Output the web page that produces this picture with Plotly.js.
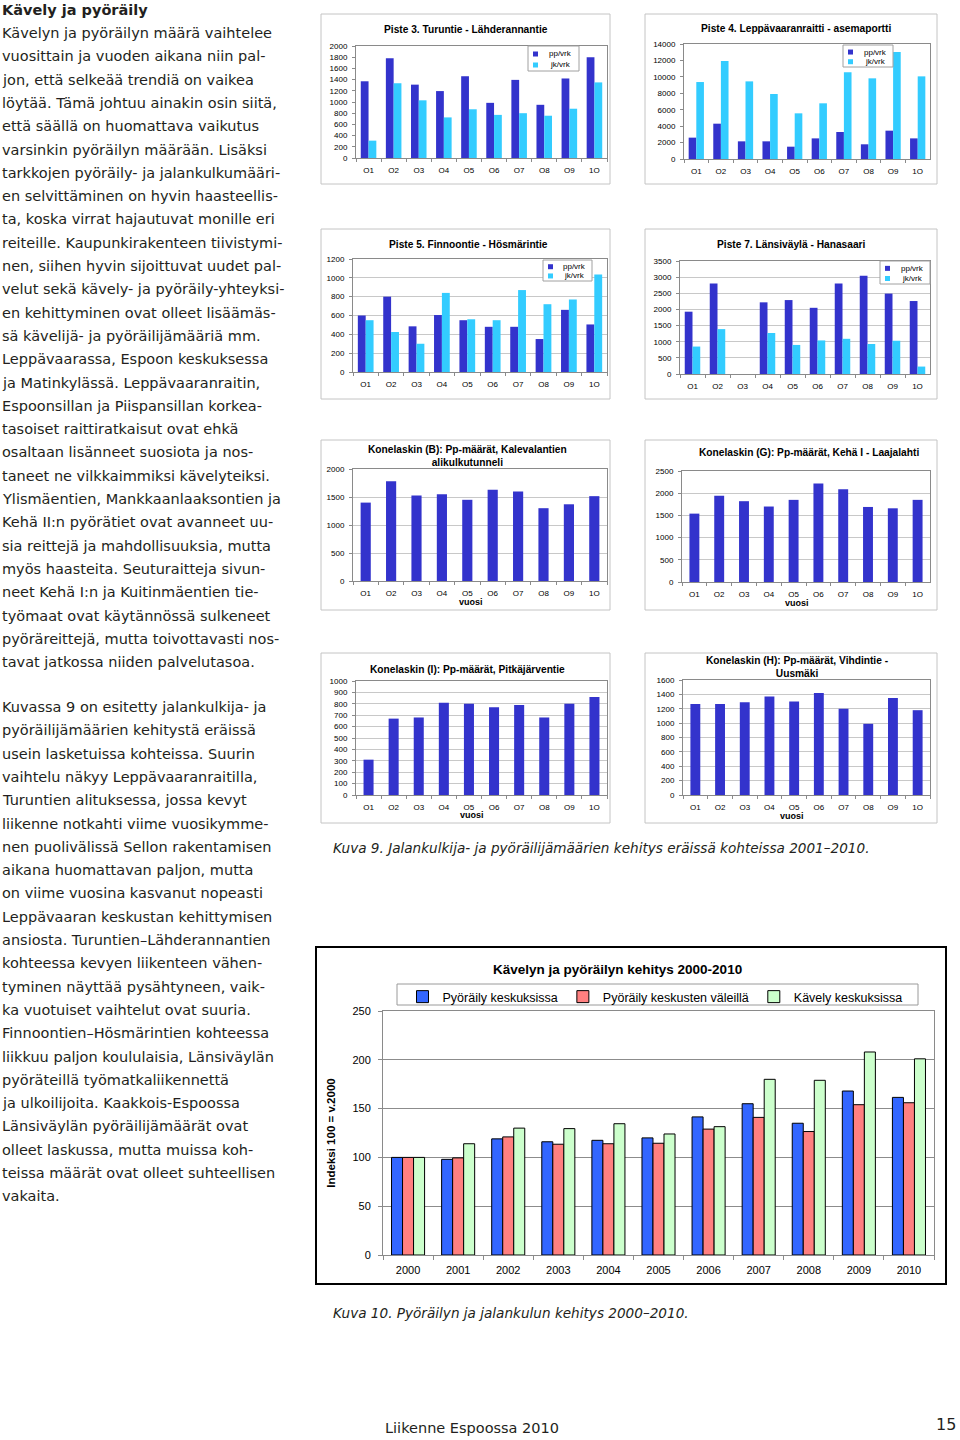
<!DOCTYPE html>
<html><head><meta charset="utf-8">
<script src="https://cdn.plot.ly/plotly-3.0.1.min.js"></script>
<style>html,body{margin:0;padding:0;background:#fff}#chart{width:960px;height:1440px}</style>
</head><body><div id="chart"></div>
<script>
// ---------------- DATA ----------------
const cats = ['O1','O2','O3','O4','O5','O6','O7','O8','O9','1O'];
const piste3_pp = [1370,1780,1310,1195,1460,985,1395,950,1420,1800];
const piste3_jk = [310,1335,1030,725,870,770,800,755,880,1350];
const piste4_pp = [2600,4300,2150,2150,1500,2510,3290,1790,3450,2510];
const piste4_jk = [9370,11930,9450,7910,5560,6780,10550,9820,13030,10060];
const piste5_pp = [600,800,485,605,550,480,480,350,660,505];
const piste5_jk = [550,425,300,840,560,550,870,720,770,1035];
const piste7_pp = [1930,2800,null,2220,2290,2050,2800,3040,2490,2260];
const piste7_jk = [850,1390,null,1270,900,1040,1090,930,1030,230];
const konelaskinB = [1400,1780,1525,1550,1450,1630,1600,1300,1370,1515];
const konelaskinG = [1540,1940,1820,1700,1850,2220,2090,1690,1660,1850];
const konelaskinI = [310,670,680,810,800,770,790,680,800,860];
const konelaskinH = [1265,1265,1290,1370,1300,1420,1200,990,1350,1180];

const years = ['2000','2001','2002','2003','2004','2005','2006','2007','2008','2009','2010'];
const pyorailyKeskuksissa = [100,98,119,116,117.5,120,141.5,155,135,168,161.5];
const pyorailyValeilla    = [100,99.5,121,113.5,114,114.5,129,141,126.5,154,156];
const kavelyKeskuksissa   = [100,114,130,129.5,134.5,124,131.5,180,179,208,201];

// ---------------- TEXTS ----------------
const heading = 'Kävely ja pyöräily';
const para1 = [
'Kävelyn ja pyöräilyn määrä vaihtelee',
'vuosittain ja vuoden aikana niin pal-',
'jon, että selkeää trendiä on vaikea',
'löytää. Tämä johtuu ainakin osin siitä,',
'että säällä on huomattava vaikutus',
'varsinkin pyöräilyn määrään. Lisäksi',
'tarkkojen pyöräily- ja jalankulkumääri-',
'en selvittäminen on hyvin haasteellis-',
'ta, koska virrat hajautuvat monille eri',
'reiteille. Kaupunkirakenteen tiivistymi-',
'nen, siihen hyvin sijoittuvat uudet pal-',
'velut sekä kävely- ja pyöräily-yhteyksi-',
'en kehittyminen ovat olleet lisäämäs-',
'sä kävelijä- ja pyöräilijämääriä mm.',
'Leppävaarassa, Espoon keskuksessa',
'ja Matinkylässä. Leppävaaranraitin,',
'Espoonsillan ja Piispansillan korkea-',
'tasoiset raittiratkaisut ovat ehkä',
'osaltaan lisänneet suosiota ja nos-',
'taneet ne vilkkaimmiksi kävelyteiksi.',
'Ylismäentien, Mankkaanlaaksontien ja',
'Kehä II:n pyörätiet ovat avanneet uu-',
'sia reittejä ja mahdollisuuksia, mutta',
'myös haasteita. Seuturaitteja sivun-',
'neet Kehä I:n ja Kuitinmäentien tie-',
'työmaat ovat käytännössä sulkeneet',
'pyöräreittejä, mutta toivottavasti nos-',
'tavat jatkossa niiden palvelutasoa.'];
const para2 = [
'Kuvassa 9 on esitetty jalankulkija- ja',
'pyöräilijämäärien kehitystä eräissä',
'usein lasketuissa kohteissa. Suurin',
'vaihtelu näkyy Leppävaaranraitilla,',
'Turuntien alituksessa, jossa kevyt',
'liikenne notkahti viime vuosikymme-',
'nen puolivälissä Sellon rakentamisen',
'aikana huomattavan paljon, mutta',
'on viime vuosina kasvanut nopeasti',
'Leppävaaran keskustan kehittymisen',
'ansiosta. Turuntien–Lähderannantien',
'kohteessa kevyen liikenteen vähen-',
'tyminen näyttää pysähtyneen, vaik-',
'ka vuotuiset vaihtelut ovat suuria.',
'Finnoontien–Hösmärintien kohteessa',
'liikkuu paljon koululaisia, Länsiväylän',
'pyöräteillä työmatkaliikennettä',
'ja ulkoilijoita. Kaakkois-Espoossa',
'Länsiväylän pyöräilijämäärät ovat',
'olleet laskussa, mutta muissa koh-',
'teissa määrät ovat olleet suhteellisen',
'vakaita.'];
const caption9 = 'Kuva 9. Jalankulkija- ja pyöräilijämäärien kehitys eräissä kohteissa 2001–2010.';
const caption10 = 'Kuva 10. Pyöräilyn ja jalankulun kehitys 2000–2010.';
const footer = 'Liikenne Espoossa 2010';
const pageNo = '15';

// ---------------- LAYOUT HELPERS ----------------
const W = 960, H = 1440;
const X = v => v / W, Y = v => 1 - v / H;
const ppColor = '#3333CC', jkColor = '#33CCFF';
const chartFont = 'Liberation Sans, Arial, sans-serif';
const textFont = 'DejaVu Sans, sans-serif';
const ink = '#231f20';

const panels = [
 {L:356,R:607,T:46,B:158, range:[0,2000], dtick:200, grid:false, box:[321,14,610,184],
  title:'Piste 3. Turuntie - Lähderannantie', tx:466, ty:29,
  series:[['pp/vrk',piste3_pp,ppColor],['jk/vrk',piste3_jk,jkColor]], leg:[528,46,579,71]},
 {L:684,R:930,T:44,B:159, range:[0,14000], dtick:2000, grid:false, box:[645,14,937,184],
  title:'Piste 4. Leppävaaranraitti - asemaportti', tx:796, ty:28,
  series:[['pp/vrk',piste4_pp,ppColor],['jk/vrk',piste4_jk,jkColor]], leg:[843,45,893,67]},
 {L:353,R:607,T:259,B:372, range:[0,1200], dtick:200, grid:true, box:[321,229,610,399],
  title:'Piste 5. Finnoontie - Hösmärintie', tx:468, ty:244,
  series:[['pp/vrk',piste5_pp,ppColor],['jk/vrk',piste5_jk,jkColor]], leg:[543,260,592,281]},
 {L:680,R:930,T:261,B:374, range:[0,3500], dtick:500, grid:true, box:[645,229,937,399],
  title:'Piste 7. Länsiväylä - Hanasaari', tx:791, ty:245,
  series:[['pp/vrk',piste7_pp,ppColor],['jk/vrk',piste7_jk,jkColor]], leg:[880,261,930,284]},
 {L:353,R:607,T:469,B:581, range:[0,2000], dtick:500, grid:true, box:[321,440,610,610],
  title:'Konelaskin (B): Pp-määrät, Kalevalantien<br>alikulkutunneli', tx:467, ty:456,
  series:[['Pp',konelaskinB,ppColor]], vuosi:[471,602]},
 {L:682,R:930,T:471,B:582, range:[0,2500], dtick:500, grid:true, box:[645,440,937,610],
  title:'Konelaskin (G): Pp-määrät, Kehä I - Laajalahti', tx:809, ty:452,
  series:[['Pp',konelaskinG,ppColor]], vuosi:[797,603]},
 {L:356,R:607,T:681,B:795, range:[0,1000], dtick:100, grid:true, box:[321,653,610,823],
  title:'Konelaskin (I): Pp-määrät, Pitkäjärventie', tx:467, ty:669,
  series:[['Pp',konelaskinI,ppColor]], vuosi:[472,815]},
 {L:683,R:930,T:680,B:795, range:[0,1600], dtick:200, grid:true, box:[645,653,937,823],
  title:'Konelaskin (H): Pp-määrät, Vihdintie -<br>Uusmäki', tx:797, ty:667,
  series:[['Pp',konelaskinH,ppColor]], vuosi:[792,816]}
];

const data = [], annotations = [], shapes = [];
const layout = {
  width: W, height: H, margin:{l:0,r:0,t:0,b:0},
  paper_bgcolor:'#fff', plot_bgcolor:'#fff',
  font:{family:chartFont, color:'#000'},
  showlegend:true, barmode:'overlay'
};

panels.forEach((p, i) => {
  const n = i + 1;
  const xk = n === 1 ? 'xaxis' : 'xaxis' + n;
  const yk = n === 1 ? 'yaxis' : 'yaxis' + n;
  const xr = n === 1 ? 'x' : 'x' + n;
  const yr = n === 1 ? 'y' : 'y' + n;
  layout[xk] = {domain:[X(p.L), X(p.R)], anchor:yr, type:'category', fixedrange:true,
    showline:true, mirror:true, linecolor:'#8a8a8a', linewidth:1,
    ticks:'outside', tickson:'boundaries', ticklen:3, tickcolor:'#8a8a8a',
    tickfont:{size:8, family:chartFont}, ticklabelstandoff:4, showgrid:false};
  layout[yk] = {domain:[Y(p.B), Y(p.T)], anchor:xr, range:p.range, dtick:p.dtick, tick0:0,
    tickformat:'d', fixedrange:true,
    showline:true, mirror:true, linecolor:'#8a8a8a', linewidth:1,
    ticks:'outside', ticklen:3, tickcolor:'#8a8a8a',
    tickfont:{size:8, family:chartFont}, ticklabelstandoff:3,
    showgrid:p.grid, gridcolor:'#c8c8c8', gridwidth:1, zeroline:false};
  const two = p.series.length === 2;
  p.series.forEach((s, j) => {
    data.push({type:'bar', x:cats, y:s[1], name:s[0], xaxis:xr, yaxis:yr,
      marker:{color:s[2], line:{width:0}},
      width: two ? 0.31 : 0.4, offset: two ? (j === 0 ? -0.31 : 0) : -0.2,
      showlegend:false, hoverinfo:'y'});
  });
  if (two) {
    // compact legend box (Excel style)
    const [lx0, ly0, lx1, ly1] = p.leg;
    const lh = ly1 - ly0, lw = lx1 - lx0;
    shapes.push({type:'rect', xref:'paper', yref:'paper', x0:X(lx0), x1:X(lx1), y0:Y(ly1), y1:Y(ly0),
      fillcolor:'#fff', line:{color:'#a0a0a0', width:1}});
    p.series.forEach((s, j) => {
      const cy = ly0 + lh * (j === 0 ? 0.32 : 0.76);
      shapes.push({type:'rect', xref:'paper', yref:'paper', x0:X(lx0 + 5), x1:X(lx0 + 10),
        y0:Y(cy + 2.5), y1:Y(cy - 2.5), fillcolor:s[2], line:{width:0}});
      annotations.push({xref:'paper', yref:'paper', x:X(lx0 + lw * 0.64), y:Y(cy), xanchor:'center', yanchor:'middle',
        text:s[0], showarrow:false, font:{size:8, family:chartFont, color:'#000'}});
    });
  }
  shapes.push({type:'rect', xref:'paper', yref:'paper', x0:X(p.box[0]), x1:X(p.box[2]),
    y0:Y(p.box[3]), y1:Y(p.box[1]), line:{color:'#c4c4c4', width:1}, layer:'below'});
  annotations.push({xref:'paper', yref:'paper', x:X(p.tx), y:Y(p.ty), xanchor:'center', yanchor:'middle',
    text:'<b>' + p.title + '</b>', showarrow:false, font:{size:10.2, family:chartFont}});
  if (p.vuosi) {
    annotations.push({xref:'paper', yref:'paper', x:X(p.vuosi[0]), y:Y(p.vuosi[1]), xanchor:'center', yanchor:'middle',
      text:'<b>vuosi</b>', showarrow:false, font:{size:9, family:chartFont}});
  }
});

// ---------------- BIG CHART ----------------
const big = [
  ['Pyöräily keskuksissa', pyorailyKeskuksissa, '#3366FF', -0.33],
  ['Pyöräily keskusten väleillä', pyorailyValeilla, '#FF8080', -0.11],
  ['Kävely keskuksissa', kavelyKeskuksissa, '#CCFFCC', 0.11]
];
big.forEach(s => {
  data.push({type:'bar', x:years, y:s[1], name:s[0], xaxis:'x9', yaxis:'y9',
    marker:{color:s[2], line:{color:'#000', width:1}}, width:0.22, offset:s[3],
    hoverinfo:'y'});
});
layout.xaxis9 = {domain:[X(383), X(934)], anchor:'y9', type:'category', fixedrange:true,
  showline:true, mirror:true, linecolor:'#8a8a8a', linewidth:1,
  ticks:'outside', tickson:'boundaries', ticklen:4, tickcolor:'#8a8a8a',
  tickfont:{size:11, family:chartFont}, ticklabelstandoff:5, showgrid:false};
layout.yaxis9 = {domain:[Y(1255), Y(1011)], anchor:'x9', range:[0,250], dtick:50, tick0:0, fixedrange:true,
  showline:true, mirror:true, linecolor:'#8a8a8a', linewidth:1,
  ticks:'outside', ticklen:4, tickcolor:'#8a8a8a',
  tickfont:{size:11, family:chartFont}, ticklabelstandoff:5,
  showgrid:true, gridcolor:'#8c8c8c', gridwidth:1, zeroline:false,
  title:{text:'<b>Indeksi 100 = v.2000</b>', font:{size:11.5, family:chartFont}, standoff:14}};
layout.legend = {orientation:'h', x:X(655), y:Y(982), xanchor:'center', yanchor:'top',
  bgcolor:'rgba(0,0,0,0)', borderwidth:0, font:{size:12.5, family:chartFont}, itemwidth:30};
shapes.push({type:'rect', xref:'paper', yref:'paper', x0:X(397), x1:X(918), y0:Y(1005), y1:Y(984),
  line:{color:'#9a9a9a', width:1}, layer:'below'});
shapes.push({type:'rect', xref:'paper', yref:'paper', x0:X(316), x1:X(946), y0:Y(1284), y1:Y(947),
  line:{color:'#000', width:2}, layer:'below'});
annotations.push({xref:'paper', yref:'paper', x:X(617), y:Y(969), xanchor:'center', yanchor:'middle',
  text:'<b>Kävelyn ja pyöräilyn kehitys 2000-2010</b>', showarrow:false, font:{size:13.5, family:chartFont}});

// ---------------- PAGE TEXT ----------------
const bodyFont = {size:14.5, family:textFont, color:ink};
annotations.push({xref:'paper', yref:'paper', x:0, y:Y(10), xanchor:'left', yanchor:'middle',
  text:'<b>' + heading + '</b>', showarrow:false, font:{size:14.5, family:textFont, color:ink}});
para1.forEach((t, k) => annotations.push({xref:'paper', yref:'paper', x:0, y:Y(33 + k * 23.3),
  xanchor:'left', yanchor:'middle', text:t, showarrow:false, font:bodyFont}));
para2.forEach((t, k) => annotations.push({xref:'paper', yref:'paper', x:0, y:Y(707 + k * 23.3),
  xanchor:'left', yanchor:'middle', text:t, showarrow:false, font:bodyFont}));
annotations.push({xref:'paper', yref:'paper', x:X(331), y:Y(848), xanchor:'left', yanchor:'middle',
  text:'<i>' + caption9 + '</i>', showarrow:false, font:{size:13.6, family:textFont, color:ink}});
annotations.push({xref:'paper', yref:'paper', x:X(331), y:Y(1313), xanchor:'left', yanchor:'middle',
  text:'<i>' + caption10 + '</i>', showarrow:false, font:{size:13.6, family:textFont, color:ink}});
annotations.push({xref:'paper', yref:'paper', x:X(383), y:Y(1428), xanchor:'left', yanchor:'middle',
  text:footer, showarrow:false, font:{size:14.5, family:textFont, color:ink}});
annotations.push({xref:'paper', yref:'paper', x:X(958), y:Y(1424), xanchor:'right', yanchor:'middle',
  text:pageNo, showarrow:false, font:{size:16, family:textFont, color:ink}});

layout.annotations = annotations;
layout.shapes = shapes;

Plotly.newPlot('chart', data, layout, {staticPlot:true, displayModeBar:false});
</script></body></html>
